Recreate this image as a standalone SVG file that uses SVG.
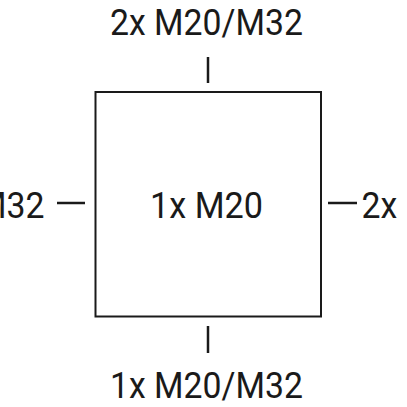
<svg xmlns="http://www.w3.org/2000/svg" width="407" height="407" viewBox="0 0 407 407">
<style>
.lbl{font-family:Roboto,"Open Sans","Liberation Sans",sans-serif;font-size:37px;fill:#1a1a1a}
.box{fill:#fff;stroke:#1a1a1a;stroke-width:2}
.tick{stroke:#1a1a1a;stroke-width:2.5;fill:none}
</style>
<rect width="407" height="407" fill="#fff"/>
<g id="box">
<rect class="box" x="95.5" y="92" width="225.5" height="224.5"/>
<text class="lbl" x="150" y="218" textLength="113" lengthAdjust="spacingAndGlyphs">1x M20</text>
</g>
<g id="connectors">
<line class="tick" x1="208" y1="57" x2="208" y2="83"/>
<line class="tick" x1="208" y1="326" x2="208" y2="353"/>
<line class="tick" x1="57" y1="203" x2="85" y2="203"/>
<line class="tick" x1="328" y1="203" x2="357" y2="203"/>
</g>
<g id="top">
<text class="lbl" x="110" y="34.7" textLength="193" lengthAdjust="spacingAndGlyphs">2x M20/M32</text>
</g>
<g id="bottom">
<text class="lbl" x="110" y="398.3" textLength="193" lengthAdjust="spacingAndGlyphs">1x M20/M32</text>
</g>
<g id="left">
<text class="lbl" x="44.5" y="218" text-anchor="end" textLength="193" lengthAdjust="spacingAndGlyphs">2x M20/M32</text>
</g>
<g id="right">
<text class="lbl" x="361.5" y="218" textLength="193" lengthAdjust="spacingAndGlyphs">2x M20/M32</text>
</g>
</svg>
